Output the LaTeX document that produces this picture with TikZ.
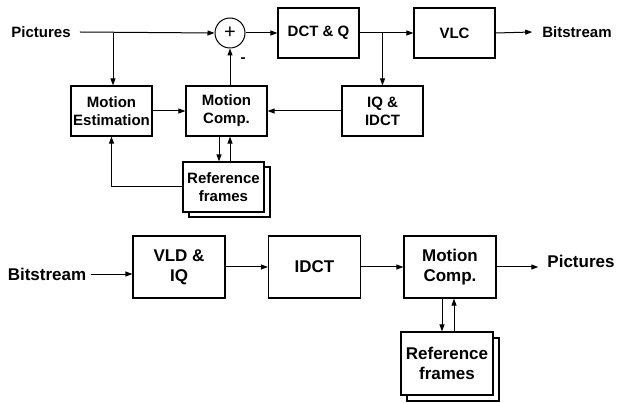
\documentclass[tikz,border=0pt]{standalone}
\usepackage{fontspec}
\setmainfont{Liberation Sans}
\usepackage{tikz}
\usetikzlibrary{arrows.meta,positioning}

\begin{document}
\begin{tikzpicture}[
  x=1pt, y=-1pt,
  blk/.style={draw, line width=1.2pt, fill=white, inner sep=0pt, align=center, minimum width=81pt, minimum height=50pt,
    font=\fontsize{15}{18}\selectfont\bfseries},
  bigblk/.style={blk, minimum width=92pt, minimum height=62pt, font=\fontsize{17}{20}\selectfont\bfseries},
  lab/.style={inner sep=0pt, font=\fontsize{15}{18}\selectfont\bfseries},
  biglab/.style={lab, font=\fontsize{17}{20}\selectfont\bfseries},
  arr/.style={line width=1pt, -{Triangle[length=7pt,width=5pt]}}
]
\useasboundingbox (0,0) rectangle (618,403);
% encoder
\node[lab] (pin) at (41,32) {Pictures};
\node[circle, draw, line width=1pt, minimum size=30pt, inner sep=0pt, font=\fontsize{20}{20}\selectfont] (sum) at (230,33) {+};
\node[blk] (dct) at (318.5,33) {DCT \& Q};
\node[blk] (vlc) at (454.5,33) {VLC};
\node[lab] (bout) at (577,32) {Bitstream};
\node[blk] (me) at (111.5,111) {Motion\\Estimation};
\node[blk] (mc) at (226.5,111) {Motion\\Comp.};
\node[blk] (iq) at (382.5,111) {IQ \&\\IDCT};
\node[blk] (refsh) at (229.5,192) {};
\node[blk] (ref) at (223.5,187) {Reference\\frames};
\node[lab] (minus) at (243,60) {-};

\coordinate (br1) at (113,33);
\draw[arr] ([xshift=9pt]pin.east) -- (sum.west);
\draw[arr] (br1) -- (br1 |- me.north);
\draw[arr] (sum) -- (dct);
\draw[arr] (dct) -- (vlc);
\draw[arr] (dct.east -| iq.north) -- (iq.north);
\draw[arr] (vlc.east) -- ([xshift=-10pt]bout.west);
\draw[arr] (me) -- (mc);
\draw[arr] (iq) -- (mc);
\draw[arr] (mc.north -| sum.south) -- (sum.south);
\draw[arr] (ref.west) -| (me.south);
\coordinate (d1) at ([xshift=-7.5pt]mc.south);
\coordinate (u1) at ([xshift=3.5pt]mc.south);
\draw[arr] (d1) -- (d1 |- ref.north);
\draw[arr] (u1 |- ref.north) -- (u1);

% decoder
\node[biglab] (bin) at (47,274) {Bitstream};
\node[bigblk] (vld) at (179,267) {VLD \&\\IQ};
\node[bigblk] (idct) at (314.5,267) {IDCT};
\node[bigblk] (mc2) at (450,267) {Motion\\Comp.};
\node[biglab] (pout) at (581,261) {Pictures};
\node[bigblk, minimum height=63pt] (ref2sh) at (453,369.5) {};
\node[bigblk, minimum height=63pt] (ref2) at (447,363.5) {Reference\\frames};

\draw[arr] ([xshift=5pt]bin.east) -- (bin.east -| vld.west);
\foreach \a/\b in {vld/idct, idct/mc2} {
  \draw[arr] (\a) -- (\b);
}
\draw[arr] (mc2.east) -- ([xshift=-9pt]mc2.east -| pout.west);
\coordinate (d2) at ([xshift=-8pt]mc2.south);
\coordinate (u2) at ([xshift=4pt]mc2.south);
\draw[arr] (d2) -- (d2 |- ref2.north);
\draw[arr] (u2 |- ref2.north) -- (u2);
\end{tikzpicture}
\end{document}
